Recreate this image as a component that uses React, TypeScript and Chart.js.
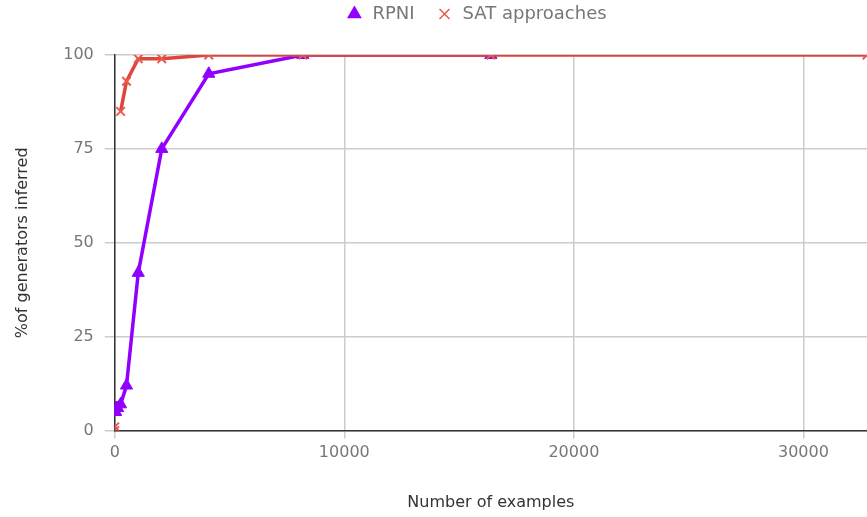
import React, { useEffect, useRef } from "react";
import { Chart, registerables } from "chart.js";

Chart.register(...registerables);

const examples = [1, 2, 4, 8, 16, 32, 64, 128, 256, 512, 1024, 2048, 4096, 8192, 16384, 32768];
const rpniValues: (number | null)[] = [5, 5, 5, 5, 5, 5, 6, 6, 7, 12, 42, 75, 95, 100, 100, null];
const satValues: (number | null)[] = [0, 1, null, null, null, null, null, null, 85, 93, 99, 99, 100, 100, 100, 100];
const yTicks = [0, 25, 50, 75, 100];
const xTicks = [0, 10000, 20000, 30000];

const FONT = "'DejaVu Sans', sans-serif";

const legendMargin = {
  id: "legendMargin",
  beforeInit(chart: any) {
    const legend = chart.legend;
    if (!legend) return;
    const orig = legend.fit;
    legend.fit = function () {
      orig.call(this);
      this.height += 22;
    };
  },
  afterLayout(chart: any) {
    const legend = chart.legend;
    if (!legend) return;
    legend.left += 36;
    legend.right += 36;
  },
};

export default function App() {
  const ref = useRef<HTMLCanvasElement | null>(null);
  useEffect(() => {
    document.body.style.margin = "0";
    const toPts = (vals: (number | null)[]) =>
      examples.map((x, i) => ({ x, y: vals[i] }));
    const defaultLabels = Chart.defaults.plugins.legend.labels.generateLabels;
    const chart = new Chart(ref.current!, {
      type: "line",
      plugins: [legendMargin],
      data: {
        datasets: [
          {
            label: "SAT approaches",
            data: toPts(satValues) as any,
            borderColor: "#e0443a",
            backgroundColor: "#e0443a",
            borderWidth: 3.5,
            pointStyle: "crossRot",
            pointRadius: 6,
            pointBorderWidth: 2,
            pointBorderColor: "#e85a50",
            spanGaps: false,
          },
          {
            label: "RPNI",
            data: toPts(rpniValues) as any,
            borderColor: "#9100ff",
            backgroundColor: "#9100ff",
            borderWidth: 3.5,
            pointStyle: "triangle",
            pointRadius: 7,
            pointBorderWidth: 1,
            spanGaps: false,
          },
        ],
      },
      options: {
        animation: false,
        responsive: false,
        maintainAspectRatio: false,
        layout: { autoPadding: false, padding: { left: 13, right: 0, top: -16, bottom: 5 } },
        plugins: {
          tooltip: { enabled: false },
          legend: {
            position: "top",
            labels: {
              usePointStyle: true,
              boxWidth: 18,
              boxHeight: 10,
              padding: 21,
              color: "#777",
              font: { family: FONT, size: 18 },
              sort: (a: any, b: any) => b.datasetIndex - a.datasetIndex,
              generateLabels: (c: any) =>
                defaultLabels(c).map((l: any) => ({ ...l, lineWidth: 1.5 })),
            },
          },
        },
        scales: {
          x: {
            type: "linear",
            min: 0,
            max: 32768,
            afterBuildTicks: (axis: any) => {
              axis.ticks = xTicks.map((v) => ({ value: v }));
            },
            ticks: {
              color: "#777",
              font: { family: FONT, size: 16 },
              padding: 5,
              callback: (v: any) => String(v),
            },
            grid: { color: "#cccccc", tickLength: 8, tickColor: "#cccccc", lineWidth: 1.5 },
            border: { color: "#333", width: 1.5 },
            title: {
              display: true,
              text: "Number of examples",
              color: "#333",
              font: { family: FONT, size: 16 },
              padding: { top: 25, bottom: 0 },
            },
          },
          y: {
            type: "linear",
            min: 0,
            max: 100,
            afterBuildTicks: (axis: any) => {
              axis.ticks = yTicks.map((v) => ({ value: v }));
            },
            ticks: { color: "#777", font: { family: FONT, size: 16 }, padding: 11 },
            grid: { color: "#cccccc", tickLength: 10, tickColor: "#cccccc", lineWidth: 1.5 },
            border: { color: "#333", width: 1.5 },
            title: {
              display: true,
              text: "%of generators inferred",
              color: "#333",
              font: { family: FONT, size: 16 },
              padding: { top: 0, bottom: 20 },
            },
          },
        },
      },
    });
    return () => chart.destroy();
  }, []);
  return (
    <div style={{ width: 867, height: 517 }}>
      <canvas ref={ref} width={867} height={517} />
    </div>
  );
}
